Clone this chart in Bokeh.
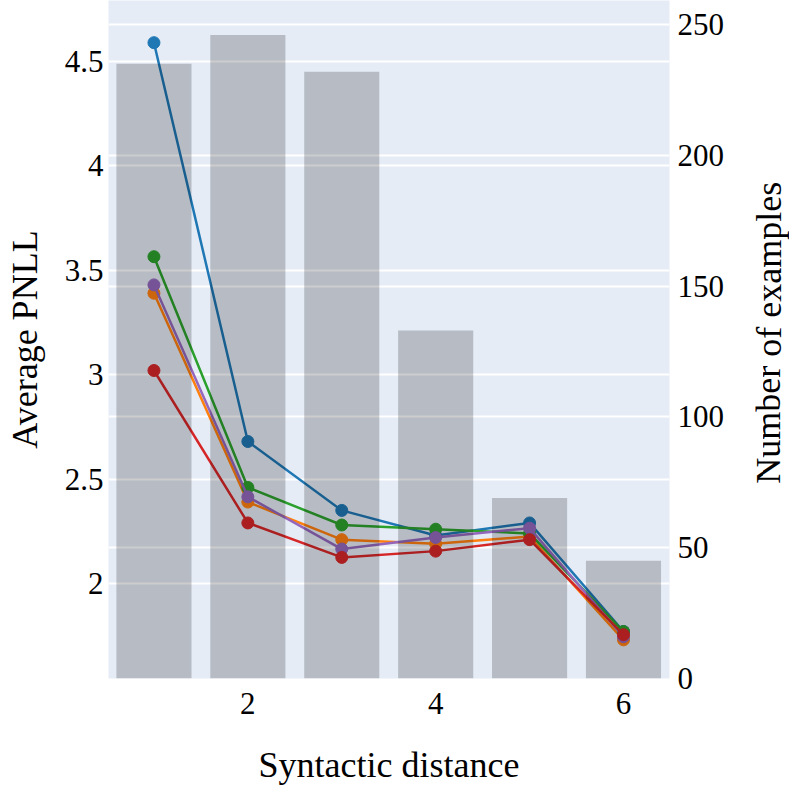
from bokeh.plotting import figure
from bokeh.layouts import row
from bokeh.models import Range1d, LinearAxis, FixedTicker, Grid, CustomJSTickFormatter
from bokeh.core.properties import value
from bokeh.embed import file_html
from bokeh.resources import INLINE

# ---- data ----
distance = [1, 2, 3, 4, 5, 6]
num_examples = [235, 246, 232, 133, 69, 45]

pnll_blue = [4.59, 2.68, 2.35, 2.23, 2.29, 1.77]
pnll_orange = [3.39, 2.39, 2.21, 2.19, 2.225, 1.73]
pnll_green = [3.565, 2.46, 2.28, 2.26, 2.24, 1.77]
pnll_purple = [3.43, 2.415, 2.165, 2.22, 2.265, 1.745]
pnll_red = [3.02, 2.29, 2.125, 2.155, 2.21, 1.755]

x_ticks = [2, 4, 6]
left_ticks = [2, 2.5, 3, 3.5, 4, 4.5]
right_ticks = [0, 50, 100, 150, 200, 250]

x_title = "Syntactic distance"
y_title = "Average PNLL"
y2_title = "Number of examples"

FONT = "Liberation Serif"
BG = "#E5ECF6"
COUNT_MAX = 259.2

p = figure(width=739, height=789, output_backend="svg", toolbar_location=None,
           x_range=Range1d(0.516, 6.49), y_range=Range1d(1.545, 4.792),
           min_border_left=108, min_border_right=70, min_border_top=0,
           min_border_bottom=111)
p.background_fill_color = BG
p.border_fill_color = "white"
p.outline_line_color = None
p.extra_y_ranges = {"count": Range1d(0, COUNT_MAX)}

# grids
p.xgrid.visible = False
p.ygrid.ticker = FixedTicker(ticks=left_ticks)
p.ygrid.grid_line_color = "white"
p.ygrid.grid_line_width = 2
rgrid = Grid(dimension=1, ticker=FixedTicker(ticks=right_ticks), y_range_name="count",
             grid_line_color="white", grid_line_width=2)
p.add_layout(rgrid)

# lines (drawn under the translucent bars)
series = [
    (pnll_blue, "#1f77b4"),
    (pnll_orange, "#ff7f0e"),
    (pnll_green, "#2ca02c"),
    (pnll_purple, "#9467bd"),
    (pnll_red, "#d62728"),
]
for vals, col in series:
    p.line(distance, vals, line_color=col, line_width=2.5)
    p.scatter(distance, vals, size=12, fill_color=col, line_color=col)

# bars on the right axis
p.vbar(x=distance, top=num_examples, bottom=0, width=0.8, y_range_name="count",
       fill_color="black", fill_alpha=0.2, line_color=None)

fmt = CustomJSTickFormatter(code="return String(tick);")

def style(ax, standoff, label_standoff):
    ax.axis_line_color = None
    ax.major_tick_line_color = None
    ax.minor_tick_line_color = None
    ax.major_tick_out = 0
    ax.major_tick_in = 0
    ax.minor_tick_out = 0
    ax.minor_tick_in = 0
    ax.major_label_text_font = FONT
    ax.major_label_text_font_size = "31px"
    ax.major_label_text_color = "black"
    ax.major_label_standoff = standoff
    ax.axis_label_text_font = FONT
    ax.axis_label_text_font_size = "36px"
    ax.axis_label_text_font_style = "normal"
    ax.axis_label_text_color = "black"
    ax.axis_label_standoff = label_standoff
    ax.formatter = fmt

xa = p.xaxis[0]
xa.ticker = FixedTicker(ticks=x_ticks)
xa.axis_label = x_title
style(xa, 14, 28)

ya = p.yaxis[0]
ya.ticker = FixedTicker(ticks=left_ticks)
ya.axis_label = y_title
style(ya, 5, 17)

ra = LinearAxis(y_range_name="count", ticker=FixedTicker(ticks=right_ticks))
style(ra, 8, 0)
p.add_layout(ra, "right")

# narrow side panel holding the right-hand axis title, reading bottom-to-top
side = figure(width=50, height=789, output_backend="svg", toolbar_location=None,
              x_range=Range1d(0, 1), y_range=Range1d(0, COUNT_MAX),
              min_border_left=0, min_border_right=0, min_border_top=0,
              min_border_bottom=111)
side.axis.visible = False
side.grid.visible = False
side.outline_line_color = None
side.background_fill_color = "white"
side.border_fill_color = "white"
side.text(x=[0.58], y=[COUNT_MAX * 0.51], text=[y2_title], angle=1.5707963,
          text_font=value(FONT), text_font_size=value("36px"), text_color="black",
          text_align="center", text_baseline="middle")

layout = row(p, side)
open("out.html", "w").write(file_html(layout, INLINE))
